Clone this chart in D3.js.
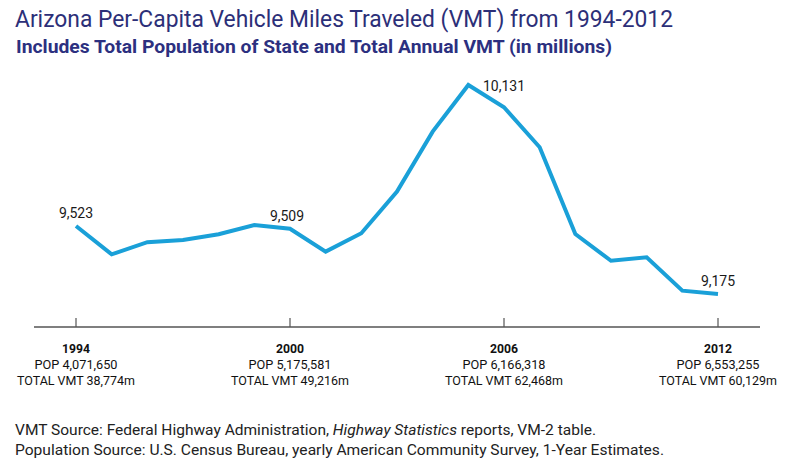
<!DOCTYPE html>
<html>
<head>
<meta charset="utf-8">
<script src="https://cdn.jsdelivr.net/npm/d3@7.9.0/dist/d3.min.js"></script>
<style>
  html, body { margin: 0; padding: 0; background: #fff; }
  svg { display: block; font-family: Roboto, "Noto Sans", sans-serif; }
</style>
</head>
<body>
<svg id="chart" width="794" height="467"></svg>
<script>
// ---- data ----
const years = [1994, 1995, 1996, 1997, 1998, 1999, 2000, 2001, 2002, 2003,
               2004, 2005, 2006, 2007, 2008, 2009, 2010, 2011, 2012];
const vmtPerCapita = [9523, 9378, 9440, 9451, 9481, 9528, 9509, 9392, 9486, 9699,
                      10006, 10245, 10131, 9926, 9482, 9345, 9363, 9192, 9175];

// years that get a value label and a tick with population / total vmt
const tickYears = [1994, 2000, 2006, 2012];
const tickPop = ['4,071,650', '5,175,581', '6,166,318', '6,553,255'];
const tickTotalVmt = ['38,774m', '49,216m', '62,468m', '60,129m'];

const title = 'Arizona Per-Capita Vehicle Miles Traveled (VMT) from 1994-2012';
const subtitle = 'Includes Total Population of State and Total Annual VMT (in millions)';

const svg = d3.select('#chart');

// squeeze/stretch a text element to the width measured on the picture
function fitWidth(sel, w) {
  sel.attr('textLength', w).attr('lengthAdjust', 'spacingAndGlyphs');
}

// ---- title block ----
svg.append('text')
  .attr('x', 15).attr('y', 27)
  .attr('font-size', 23.5)
  .attr('fill', '#2c2f78')
  .text(title)
  .call(fitWidth, 658);

svg.append('text')
  .attr('x', 16).attr('y', 53)
  .attr('font-size', 19)
  .attr('font-weight', 'bold')
  .attr('fill', '#2c3080')
  .text(subtitle)
  .call(fitWidth, 596);

// ---- scales ----
const x = d3.scaleLinear().domain([1994, 2012]).range([76, 718]);
const y = d3.scaleLinear().domain([9000, 10300]).range([328.2, 74.2]);

// ---- axis ----
const axisY = 327;
svg.append('line')
  .attr('x1', 34).attr('x2', 760)
  .attr('y1', axisY).attr('y2', axisY)
  .attr('stroke', '#555').attr('stroke-width', 1.5);

const ticks = svg.append('g').selectAll('g')
  .data(tickYears)
  .join('g')
  .attr('transform', d => `translate(${x(d)},0)`);

ticks.append('line')
  .attr('y1', axisY - 9).attr('y2', axisY)
  .attr('stroke', '#555').attr('stroke-width', 1.2);

ticks.append('text')
  .attr('y', 353)
  .attr('text-anchor', 'middle')
  .attr('font-size', 13.5)
  .attr('font-weight', 'bold')
  .attr('fill', '#111')
  .text(d => d)
  .call(fitWidth, 28);

ticks.append('text')
  .attr('y', 368.5)
  .attr('text-anchor', 'middle')
  .attr('font-size', 13.5)
  .attr('fill', '#111')
  .text((d, i) => `POP ${tickPop[i]}`)
  .call(fitWidth, 83);

ticks.append('text')
  .attr('y', 384.5)
  .attr('text-anchor', 'middle')
  .attr('font-size', 13.5)
  .attr('fill', '#111')
  .text((d, i) => `TOTAL VMT ${tickTotalVmt[i]}`)
  .call(fitWidth, 118);

// ---- line ----
const points = years.map((yr, i) => ({ year: yr, value: vmtPerCapita[i] }));

const line = d3.line()
  .x(d => x(d.year))
  .y(d => y(d.value));

svg.append('path')
  .datum(points)
  .attr('d', line)
  .attr('fill', 'none')
  .attr('stroke', '#1aa0d8')
  .attr('stroke-width', 4);

// value labels above the labelled years (peak label sits a bit higher)
const labelled = points.filter(p => tickYears.includes(p.year));
svg.append('g').selectAll('text')
  .data(labelled)
  .join('text')
  .attr('x', d => x(d.year) - (d.year === 2000 ? 3 : 0))
  .attr('y', d => y(d.value) - (d.year === 2006 ? 16 : 8))
  .attr('text-anchor', 'middle')
  .attr('font-size', 14)
  .attr('fill', '#1a1a1a')
  .text(d => d3.format(',')(d.value));

// ---- sources ----
const src1 = svg.append('text')
  .attr('x', 15).attr('y', 435)
  .attr('font-size', 14.5)
  .attr('fill', '#222');
src1.append('tspan').text('VMT Source: Federal Highway Administration, ');
src1.append('tspan').attr('font-style', 'italic').text('Highway Statistics');
src1.append('tspan').text(' reports, VM-2 table.');
src1.call(fitWidth, 581);

svg.append('text')
  .attr('x', 15).attr('y', 454.5)
  .attr('font-size', 14.5)
  .attr('fill', '#222')
  .text('Population Source: U.S. Census Bureau, yearly American Community Survey, 1-Year Estimates.')
  .call(fitWidth, 649);
</script>
</body>
</html>
